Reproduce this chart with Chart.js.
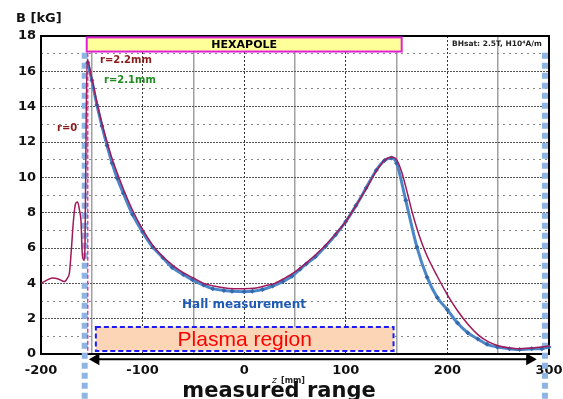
<!DOCTYPE html>
<html>
<head>
<meta charset="utf-8">
<script src="https://cdn.jsdelivr.net/npm/chart.js@4.4.0/dist/chart.umd.min.js"></script>
<style>
  body { margin: 0; background: #fff; }
  canvas { display: block; }
</style>
</head>
<body>
<canvas id="chart" width="563" height="399"></canvas>
<script>
// Hall probe measurement (blue, with markers)
const hallZ = [-154, -150, -145, -140, -135, -130, -125, -119, -110, -100, -90, -80, -71, -60, -51, -40, -31, -20, -12, 0, 8, 18, 28, 38, 47, 55, 61, 70, 80, 90, 100, 110, 120, 130, 138, 145, 150, 159, 170, 180, 190, 200, 210, 220, 230, 239, 249, 261, 271, 283, 293, 300];
const hallB = [16.5, 15.5, 14.1, 12.9, 11.8, 10.8, 9.95, 9.1, 7.9, 6.9, 6.05, 5.45, 4.9, 4.5, 4.2, 3.9, 3.7, 3.6, 3.55, 3.53, 3.55, 3.65, 3.85, 4.1, 4.4, 4.8, 5.1, 5.5, 6.1, 6.75, 7.5, 8.4, 9.4, 10.4, 10.95, 11.1, 10.8, 8.7, 6.05, 4.35, 3.2, 2.5, 1.75, 1.2, 0.85, 0.55, 0.4, 0.3, 0.25, 0.3, 0.3, 0.4];

// Calculation r=2.2mm (maroon)
const calcZ = [-200, -195, -189, -183, -177, -174, -172, -170, -168, -166, -164, -162, -160.6, -159.6, -158, -157, -154.7, -150, -145, -140, -135, -130, -120, -110, -100, -90, -80, -70, -60, -50, -40, -30, -20, -10, 0, 10, 20, 30, 40, 50, 60, 70, 80, 90, 100, 110, 120, 130, 138, 145, 150, 155, 160, 165, 170, 175, 180, 190, 200, 210, 220, 230, 240, 250, 260, 270, 280, 290, 300];
const calcB = [4.0, 4.15, 4.3, 4.25, 4.1, 4.3, 4.6, 6.0, 7.6, 8.5, 8.6, 8.1, 7.5, 5.9, 5.3, 5.5, 16.65, 15.6, 14.25, 13.05, 12.0, 11.05, 9.5, 8.15, 7.05, 6.15, 5.5, 5.0, 4.6, 4.3, 4.0, 3.85, 3.75, 3.7, 3.7, 3.72, 3.85, 4.0, 4.3, 4.65, 5.1, 5.6, 6.15, 6.8, 7.5, 8.4, 9.35, 10.35, 10.95, 11.15, 11.0, 10.3, 9.25, 8.1, 7.1, 6.25, 5.55, 4.4, 3.35, 2.45, 1.7, 1.1, 0.7, 0.47, 0.35, 0.3, 0.32, 0.38, 0.45];

// Axis ranges / ticks
const xTicks = [-200, -100, 0, 100, 200, 300];
const yTicks = [0, 2, 4, 6, 8, 10, 12, 14, 16, 18];

// Marker lines and regions (z in mm, B in kG)
const measuredEdgesZ = [-157, 296];
const hexapoleEdgeZ = -154;
const hexapoleBox = [-155, 155];
const plasmaBox = [-146, 147];
const measuredArrowZ = [-146, 281];

const toPts = (xs, ys) => xs.map((x, i) => ({ x: x, y: ys[i] }));
const FONT = 'DejaVu Sans';

// keep the plot box fixed: no extra room for overflowing tick labels
const noOverflow = (s) => { s.paddingLeft = 0; s.paddingRight = 0; };

const overlayPlugin = {
    id: 'overlay',
    afterDatasetsDraw(chart) {
        const { ctx, scales: { x, y } } = chart;
        ctx.save();

        // HEXAPOLE box
        let x1 = x.getPixelForValue(hexapoleBox[0]);
        let x2 = x.getPixelForValue(hexapoleBox[1]);
        let y1 = y.getPixelForValue(17.92);
        let y2 = y.getPixelForValue(17.12);
        ctx.fillStyle = '#ffff99';
        ctx.fillRect(x1, y1, x2 - x1, y2 - y1);
        ctx.strokeStyle = '#e020d8';
        ctx.lineWidth = 2;
        ctx.strokeRect(x1, y1, x2 - x1, y2 - y1);
        ctx.fillStyle = '#000';
        ctx.font = 'bold 11px ' + FONT;
        ctx.textAlign = 'center';
        ctx.textBaseline = 'middle';
        ctx.fillText('HEXAPOLE', (x1 + x2) / 2, (y1 + y2) / 2 + 1);

        // Plasma region box
        x1 = x.getPixelForValue(plasmaBox[0]);
        x2 = x.getPixelForValue(plasmaBox[1]);
        y1 = y.getPixelForValue(1.53);
        y2 = y.getPixelForValue(0.17);
        ctx.fillStyle = '#fbd5b5';
        ctx.fillRect(x1, y1, x2 - x1, y2 - y1);
        ctx.strokeStyle = '#1a1aff';
        ctx.setLineDash([5, 3]);
        ctx.strokeRect(x1, y1, x2 - x1, y2 - y1);
        ctx.setLineDash([]);
        ctx.fillStyle = '#ff0000';
        ctx.font = '21px "Liberation Sans"';
        ctx.fillText('Plasma region', (x1 + x2) / 2, (y1 + y2) / 2 + 1);
        ctx.restore();
    },
    afterDraw(chart) {
        const { ctx } = chart;
        ctx.save();
        ctx.textBaseline = 'alphabetic';
        ctx.textAlign = 'left';

        ctx.fillStyle = '#111';
        ctx.font = 'bold 13px ' + FONT;
        ctx.fillText('B [kG]', 16, 22);

        ctx.font = 'bold 10px ' + FONT;
        ctx.fillStyle = '#8b1a1a';
        ctx.fillText('r=2.2mm', 100, 63);
        ctx.fillText('r=0', 57, 131);
        ctx.fillStyle = '#1e8c1e';
        ctx.fillText('r=2.1mm', 104, 83);

        ctx.fillStyle = '#222';
        ctx.font = 'bold 7.5px ' + FONT;
        ctx.fillText('BHsat: 2.5T, H10\u2074A/m', 452, 46);

        ctx.fillStyle = '#1f5bb5';
        ctx.font = 'bold 12px ' + FONT;
        ctx.fillText('Hall measurement', 182, 308);

        ctx.fillStyle = '#222';
        ctx.font = 'italic 9px ' + FONT;
        ctx.fillText('z', 272, 383);
        ctx.font = 'bold 8px ' + FONT;
        ctx.fillText('[mm]', 281, 383);

        ctx.fillStyle = '#111';
        ctx.font = 'bold 21px ' + FONT;
        ctx.textAlign = 'center';
        ctx.fillText('measured range', 279, 397);
        ctx.restore();
    }
};

new Chart(document.getElementById('chart'), {
    type: 'line',
    data: {
        datasets: [
            {
                label: 'r=2.2mm',
                data: toPts(calcZ, calcB),
                borderColor: '#a0195a',
                borderWidth: 1.5,
                pointRadius: 0,
                cubicInterpolationMode: 'monotone',
                order: 1
            },
            {
                label: 'Hall measurement',
                data: toPts(hallZ, hallB),
                borderColor: '#4a86c8',
                borderWidth: 3,
                pointStyle: 'rectRot',
                pointRadius: 2.5,
                pointBackgroundColor: '#3468ad',
                pointBorderColor: '#3468ad',
                pointBorderWidth: 0,
                cubicInterpolationMode: 'monotone',
                clip: false,
                order: 2
            },
            {
                label: 'hexapole edge',
                data: [{ x: hexapoleEdgeZ, y: 17.05 }, { x: hexapoleEdgeZ, y: 0 }],
                borderColor: '#e0409a',
                borderWidth: 1.5,
                borderDash: [4, 2],
                pointRadius: 0,
                order: 3
            },
            {
                label: 'measured left',
                data: [{ x: measuredEdgesZ[0], y: 17.05 }, { x: measuredEdgesZ[0], y: -2.6 }],
                borderColor: '#8db4e2',
                borderWidth: 6,
                borderDash: [6, 4],
                pointRadius: 0,
                clip: false,
                order: 4
            },
            {
                label: 'measured right',
                data: [{ x: measuredEdgesZ[1], y: 17.05 }, { x: measuredEdgesZ[1], y: -2.6 }],
                borderColor: '#8db4e2',
                borderWidth: 6,
                borderDash: [6, 4],
                pointRadius: 0,
                clip: false,
                order: 4
            },
            {
                label: 'measured range',
                data: [{ x: measuredArrowZ[0], y: -0.3 }, { x: measuredArrowZ[1], y: -0.3 }],
                borderColor: '#000',
                borderWidth: 2,
                pointStyle: 'triangle',
                pointRadius: 5,
                pointRotation: [-90, 90],
                pointBackgroundColor: '#000',
                pointBorderColor: '#000',
                clip: false,
                order: 0
            }
        ]
    },
    options: {
        responsive: false,
        animation: false,
        events: [],
        layout: { padding: { top: 36, right: 14, left: 0, bottom: 0 } },
        plugins: {
            legend: { display: false },
            tooltip: { enabled: false }
        },
        scales: {
            x: {
                type: 'linear',
                min: -200,
                max: 300,
                afterFit: (s) => { s.height = 45; noOverflow(s); },
                afterBuildTicks: (s) => { s.ticks = xTicks.map(v => ({ value: v })); },
                ticks: {
                    padding: 9,
                    color: '#111',
                    font: { family: FONT, size: 13, weight: 'bold' }
                },
                grid: { color: '#333', lineWidth: 1, drawTicks: false },
                border: { color: '#000', width: 2, dash: [2, 2] }
            },
            x2: {
                type: 'linear',
                position: 'top',
                min: -200,
                max: 300,
                afterFit: (s) => { s.height = 0; noOverflow(s); },
                ticks: { display: false, stepSize: 50 },
                grid: {
                    drawTicks: false,
                    lineWidth: 1.5,
                    color: (c) => (c.tick && c.tick.value % 100 !== 0) ? '#a0a0a0' : 'transparent'
                },
                border: { color: '#000', width: 2 }
            },
            y: {
                min: 0,
                max: 18,
                afterFit: (s) => { s.width = 41; },
                afterBuildTicks: (s) => { s.ticks = yTicks.map(v => ({ value: v })); },
                ticks: {
                    padding: 5,
                    color: '#111',
                    font: { family: FONT, size: 13, weight: 'bold' }
                },
                grid: { color: '#555', lineWidth: 1, drawTicks: false },
                border: { color: '#000', width: 2, dash: [2, 1] }
            },
            y2: {
                position: 'right',
                min: 0,
                max: 18,
                afterFit: (s) => { s.width = 0; },
                ticks: { display: false, stepSize: 1 },
                grid: {
                    drawTicks: false,
                    color: (c) => (c.tick && c.tick.value % 2 !== 0) ? '#888' : 'transparent'
                },
                border: { color: '#000', width: 2, dash: [2, 4] }
            }
        }
    },
    plugins: [overlayPlugin]
});
</script>
</body>
</html>
